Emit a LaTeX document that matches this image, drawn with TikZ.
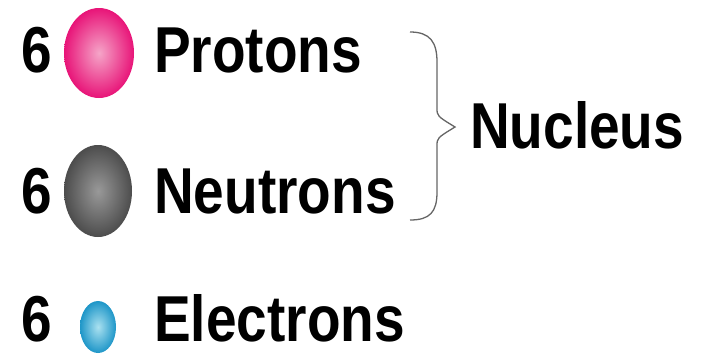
\documentclass[tikz,border=0pt]{standalone}
\usepackage{fontspec}
\setmainfont{Liberation Sans}
\begin{document}
\begin{tikzpicture}[x=1pt,y=-1pt,
  lbl/.style={anchor=base west,inner sep=0pt,text depth=0pt,font=\fontsize{55}{60}\selectfont\bfseries,yscale=1.18,text=black},
  brace/.style={draw=black!60,line width=1.3pt}]
\useasboundingbox (0,0) rectangle (706,356);
% balls
\shade[inner color={rgb,255:red,245;green,165;blue,200},outer color={rgb,255:red,232;green,20;blue,120}] (99,53) ellipse (35 and 45);
\shade[inner color=black!40,outer color=black!70] (98,191) ellipse (34 and 46);
\shade[inner color={rgb,255:red,170;green,225;blue,240},outer color={rgb,255:red,30;green,150;blue,200}] (98,327) ellipse (18 and 26);
% numbers
\node[lbl] (n1) at (21,72) {6};
\node[lbl] (n2) at (21,213) {6};
\node[lbl] (n3) at (21,341) {6};
% labels
\node[lbl] (p) at (154,72) {Protons};
\node[lbl] (n) at (154,213) {Neutrons};
\node[lbl] (e) at (154,341) {Electrons};
\node[lbl] (nuc) at (470,148) {Nucleus};
% brace
\coordinate (bt) at (410,32);
\coordinate (bm) at (455,127);
\coordinate (bb) at (410,220);
\draw[brace] (bt) .. controls (430,32) and (437,42) .. (437,62) -- (437,108) .. controls (437,116) .. (bm)
  .. controls (437,138) .. (437,146) -- (437,192) .. controls (437,212) and (430,220) .. (bb);
\end{tikzpicture}
\end{document}
